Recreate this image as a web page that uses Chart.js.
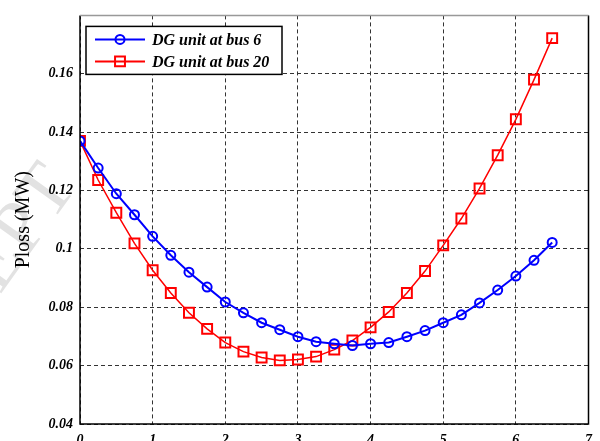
<!DOCTYPE html>
<html>
<head>
<meta charset="utf-8">
<script src="https://cdn.jsdelivr.net/npm/chart.js@4/dist/chart.umd.min.js"></script>
<style>
  html, body { margin: 0; padding: 0; background: #fff; overflow: hidden; }
  #wrap { width: 600px; height: 441px; overflow: hidden; position: relative; }
</style>
</head>
<body>
<div id="wrap"><canvas id="c" width="600" height="452"></canvas></div>
<script>
// DG size (MW) sampled every 0.25
const xVals = [0, 0.25, 0.5, 0.75, 1, 1.25, 1.5, 1.75, 2, 2.25, 2.5, 2.75, 3, 3.25,
  3.5, 3.75, 4, 4.25, 4.5, 4.75, 5, 5.25, 5.5, 5.75, 6, 6.25, 6.5];
const bus6 = [0.137, 0.1277, 0.1189, 0.1117, 0.1043, 0.0978, 0.0920, 0.0869, 0.0818, 0.0781,
  0.0747, 0.0723, 0.0699, 0.0682, 0.0675, 0.0669, 0.0675, 0.0679, 0.0699, 0.0720,
  0.0747, 0.0774, 0.0815, 0.0859, 0.0907, 0.0961, 0.1022];
const bus20 = [0.137, 0.1236, 0.1124, 0.1019, 0.0927, 0.0849, 0.0781, 0.0726, 0.0679, 0.0648,
  0.0628, 0.0618, 0.0621, 0.0631, 0.0655, 0.0686, 0.0731, 0.0784, 0.0849, 0.0924,
  0.1012, 0.1104, 0.1207, 0.1321, 0.1444, 0.1580, 0.1722];
const xTicks = [0, 1, 2, 3, 4, 5, 6, 7];
const yTicks = [0.04, 0.06, 0.08, 0.1, 0.12, 0.14, 0.16];
const yTickLabels = ['0.04', '0.06', '0.08', '0.1', '0.12', '0.14', '0.16'];
const seriesNames = ['DG unit at bus 6', 'DG unit at bus 20'];

const SERIF = "'Liberation Serif', 'Times New Roman', serif";
const tickFont = { family: SERIF, size: 14, weight: 'bold', style: 'italic' };

const pts = ys => xVals.map((x, i) => ({ x, y: ys[i] }));

/* faint manuscript watermark peeking out at the left margin */
const watermark = {
  id: 'watermark',
  beforeDraw(chart) {
    const { ctx } = chart;
    ctx.save();
    ctx.translate(0, 295);
    ctx.rotate(-0.95);
    ctx.fillStyle = '#e2e2e2';
    ctx.font = `75px ${SERIF}`;
    ctx.fillText('EPT', 0, 0);
    ctx.restore();
  }
};

/* plot frame: black box round the chart area */
const frame = {
  id: 'frame',
  afterDraw(chart) {
    const { ctx, chartArea: a } = chart;
    ctx.save();
    ctx.strokeStyle = '#000';
    ctx.lineWidth = 1.5;
    ctx.beginPath();
    ctx.moveTo(a.left, a.top); ctx.lineTo(a.left, a.bottom);
    ctx.lineTo(a.right, a.bottom); ctx.lineTo(a.right, a.top);
    ctx.stroke();
    ctx.strokeStyle = '#999';
    ctx.beginPath(); ctx.moveTo(a.left, a.top); ctx.lineTo(a.right, a.top); ctx.stroke();
    ctx.restore();
  }
};

/* MATLAB-style legend: boxed, line sample with marker */
const boxLegend = {
  id: 'boxLegend',
  afterDraw(chart) {
    const { ctx, chartArea: a } = chart;
    const x0 = a.left + 6, y0 = a.top + 11, w = 196, h = 48;
    ctx.save();
    ctx.fillStyle = '#fff';
    ctx.fillRect(x0, y0, w, h);
    ctx.strokeStyle = '#000'; ctx.lineWidth = 1.5;
    ctx.strokeRect(x0, y0, w, h);
    chart.data.datasets.forEach((ds, i) => {
      const cy = y0 + 13 + i * 22;
      ctx.strokeStyle = ds.borderColor; ctx.lineWidth = 2;
      ctx.beginPath(); ctx.moveTo(x0 + 9, cy); ctx.lineTo(x0 + 59, cy); ctx.stroke();
      ctx.lineWidth = ds.pointBorderWidth;
      ctx.strokeStyle = ds.pointBorderColor;
      ctx.fillStyle = 'rgba(0,0,0,0)';
      Chart.helpers.drawPoint(ctx, { pointStyle: ds.pointStyle, radius: ds.pointRadius, rotation: 0, borderWidth: ds.pointBorderWidth }, x0 + 34, cy);
      ctx.fillStyle = '#000';
      ctx.font = `italic bold 16px ${SERIF}`;
      ctx.textBaseline = 'middle';
      ctx.fillText(ds.label, x0 + 66, cy + 1);
    });
    ctx.restore();
  }
};

new Chart(document.getElementById('c'), {
  type: 'line',
  data: {
    datasets: [
      { label: seriesNames[0], data: pts(bus6), borderColor: '#0000ff', borderWidth: 2,
        pointStyle: 'circle', pointRadius: 4.5, pointBorderWidth: 2,
        pointBackgroundColor: 'rgba(0,0,0,0)', pointBorderColor: '#0000ff', tension: 0 },
      { label: seriesNames[1], data: pts(bus20), borderColor: '#ff0000', borderWidth: 1.5,
        pointStyle: 'rect', pointRadius: 7, pointBorderWidth: 2,
        pointBackgroundColor: 'rgba(0,0,0,0)', pointBorderColor: '#ff0000', tension: 0 }
    ]
  },
  options: {
    responsive: false,
    animation: false,
    devicePixelRatio: 1,
    layout: { padding: { top: 13, right: 7, left: 0, bottom: 0 } },
    plugins: { legend: { display: false }, tooltip: { enabled: false } },
    scales: {
      x: {
        type: 'linear', min: 0, max: 7,
        afterBuildTicks: s => { s.ticks = xTicks.map(v => ({ value: v })); },
        afterFit: s => { s.height = 28; },
        grid: { color: '#333', lineWidth: 1, drawTicks: false },
        border: { display: false, dash: [4, 3] },
        ticks: { color: '#000', font: tickFont, padding: 8, maxRotation: 0 }
      },
      y: {
        min: 0.04, max: 0.18,
        afterBuildTicks: s => { s.ticks = yTicks.map(v => ({ value: v })); },
        afterFit: s => { s.width = 80; },
        grid: { color: '#333', lineWidth: 1, drawTicks: false },
        border: { display: false, dash: [4, 3] },
        ticks: { color: '#000', font: tickFont, padding: 7,
          callback: v => yTickLabels[yTicks.indexOf(v)] ?? '' },
        title: { display: true, text: 'Ploss (MW)', color: '#000',
          font: { family: SERIF, size: 20 }, padding: { top: 12, bottom: 0 } }
      }
    }
  },
  plugins: [watermark, frame, boxLegend]
});
</script>
</body>
</html>
